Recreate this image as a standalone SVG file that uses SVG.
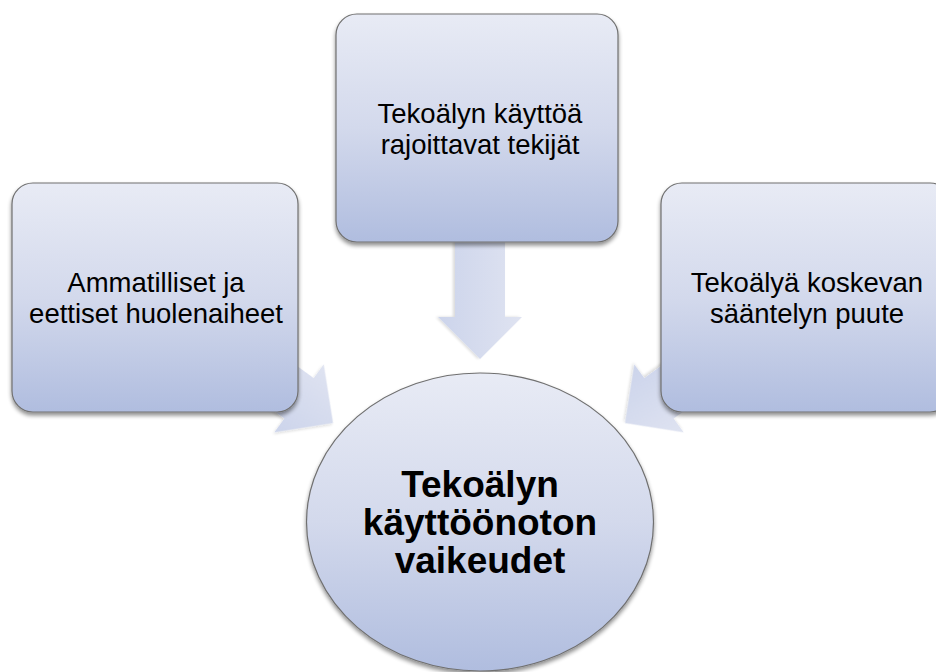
<svg xmlns="http://www.w3.org/2000/svg" width="936" height="672" viewBox="0 0 936 672">
  <defs>
    <linearGradient id="boxFill" x1="0" y1="0" x2="0" y2="1">
      <stop offset="0" stop-color="#e8ebf5"/>
      <stop offset="0.5" stop-color="#d3d9ec"/>
      <stop offset="1" stop-color="#b0bddf"/>
    </linearGradient>
    <linearGradient id="arrowFill" x1="0" y1="0" x2="0" y2="1">
      <stop offset="0" stop-color="#dfe3f1"/>
      <stop offset="1" stop-color="#ccd4eb"/>
    </linearGradient>
    <filter id="shadow" x="-10%" y="-10%" width="120%" height="125%">
      <feGaussianBlur in="SourceAlpha" stdDeviation="2.2"/>
      <feOffset dx="0" dy="2.5" result="blur"/>
      <feComponentTransfer><feFuncA type="linear" slope="0.45"/></feComponentTransfer>
      <feMerge><feMergeNode/><feMergeNode in="SourceGraphic"/></feMerge>
    </filter>
    <filter id="softShadow" x="-20%" y="-20%" width="140%" height="140%">
      <feGaussianBlur in="SourceAlpha" stdDeviation="1.5"/>
      <feOffset dx="0" dy="1.5"/>
      <feComponentTransfer><feFuncA type="linear" slope="0.15"/></feComponentTransfer>
      <feMerge><feMergeNode/><feMergeNode in="SourceGraphic"/></feMerge>
    </filter>
    <!-- block arrow pointing along +x, tip at the origin -->
    <path id="blockArrow" d="M0,0 L-42,-42 L-42,-25 L-128,-25 L-128,25 L-42,25 L-42,42 Z"/>
  </defs>
  <style>
    .node { fill: url(#boxFill); stroke: #707070; stroke-width: 1.2; filter: url(#shadow); }
    .label { font-family: "Liberation Sans", Arial, sans-serif; font-size: 27.5px; fill: #000; text-anchor: middle; }
    .hub { font-family: "Liberation Sans", Arial, sans-serif; font-size: 37px; font-weight: bold; fill: #000; text-anchor: middle; }
    .arrow { fill: url(#arrowFill); filter: url(#softShadow); }
  </style>

  <rect width="936" height="672" fill="#ffffff"/>

  <g id="connectors">
    <use href="#blockArrow" class="arrow" transform="translate(480,359) rotate(90)"/>
    <use href="#blockArrow" class="arrow" transform="translate(333,423) rotate(36)"/>
    <use href="#blockArrow" class="arrow" transform="translate(625,423) rotate(144)"/>
  </g>

  <g id="node-top">
    <rect class="node" x="336" y="14" width="282" height="228" rx="21"/>
    <text class="label" x="480" y="123">Tekoälyn käyttöä</text>
    <text class="label" x="480" y="154">rajoittavat tekijät</text>
  </g>

  <g id="node-left">
    <rect class="node" x="12" y="183" width="286" height="229" rx="21"/>
    <text class="label" x="156" y="292">Ammatilliset ja</text>
    <text class="label" x="156" y="323">eettiset huolenaiheet</text>
  </g>

  <g id="node-right">
    <rect class="node" x="661" y="183" width="290" height="229" rx="21"/>
    <text class="label" x="807" y="292">Tekoälyä koskevan</text>
    <text class="label" x="807" y="323">sääntelyn puute</text>
  </g>

  <g id="node-center">
    <ellipse class="node" cx="480" cy="522" rx="173.5" ry="149"/>
    <text class="hub" x="480" y="497">Tekoälyn</text>
    <text class="hub" x="480" y="535">käyttöönoton</text>
    <text class="hub" x="480" y="573">vaikeudet</text>
  </g>
</svg>
